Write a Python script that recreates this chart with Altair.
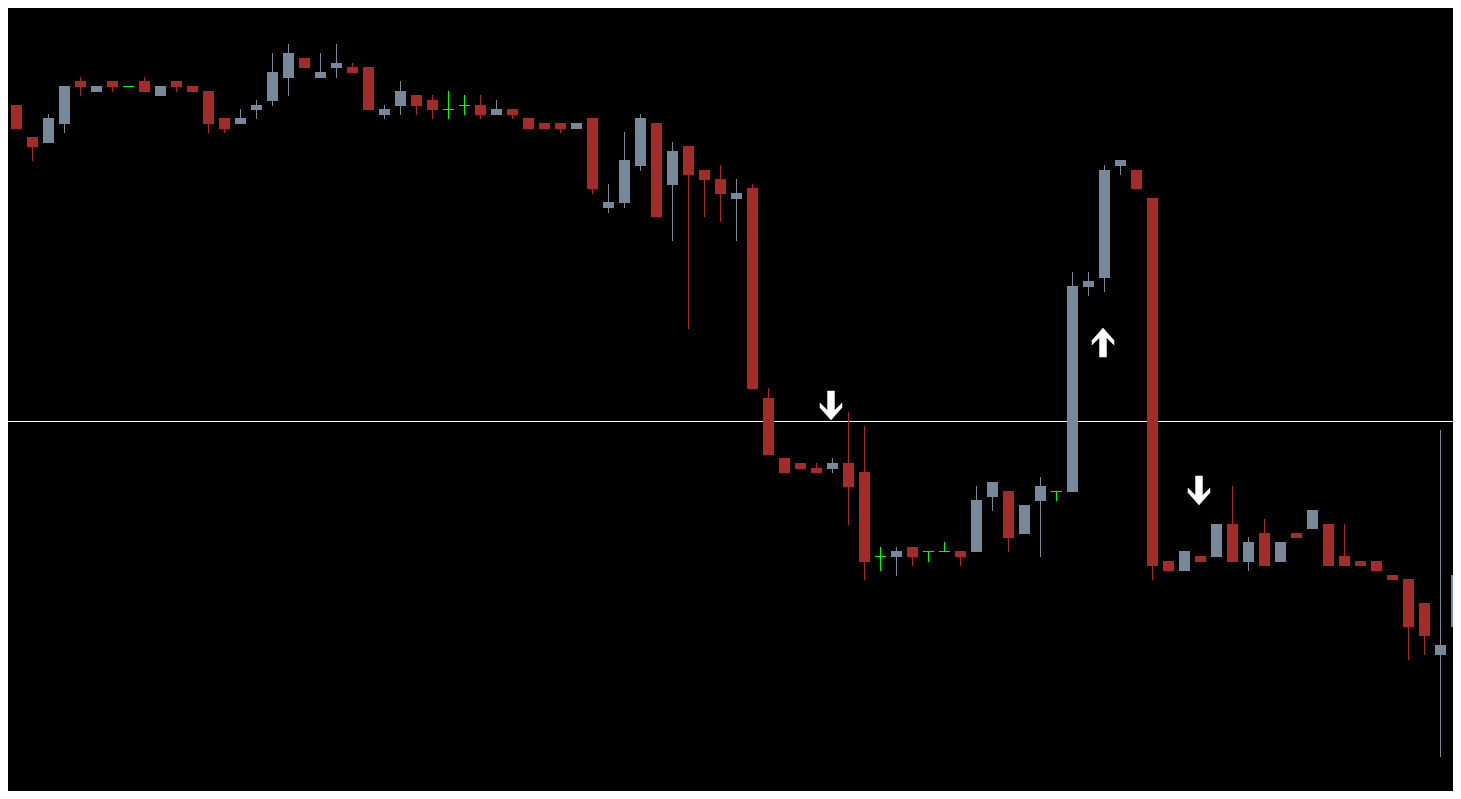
import altair as alt
import pandas as pd

# Candle OHLC values (arbitrary price units, higher = up)
opens = [728, 695, 663, 657, 676, 719, 708, 719, 714, 719, 704, 719, 714, 709, 682, 676,
         690, 699, 722, 742, 722, 732, 733, 733, 685, 694, 705, 700, 691, 695, 695, 685,
         691, 682, 677, 677, 671, 682, 592, 597, 634, 677, 615, 654, 630, 621, 601, 612,
         402, 342, 337, 332, 331, 337, 328, 244, 243, 253, 249, 249, 249, 248, 303, 309,
         266, 299, 309, 308, 513, 522, 634, 630, 602, 239, 229, 244, 243, 276, 238, 267,
         238, 267, 271, 276, 244, 239, 239, 225, 221, 197, 145, 173]
highs = [728, 695, 663, 686, 714, 723, 714, 719, 714, 723, 714, 719, 714, 709, 682, 691,
         700, 747, 756, 742, 747, 756, 737, 733, 695, 719, 705, 705, 709, 705, 705, 700,
         691, 682, 677, 677, 677, 682, 616, 668, 686, 677, 658, 654, 630, 635, 621, 616,
         412, 342, 337, 337, 342, 388, 374, 253, 253, 253, 249, 258, 249, 314, 318, 309,
         295, 323, 309, 528, 528, 635, 640, 630, 602, 239, 249, 244, 276, 314, 263, 281,
         258, 267, 290, 276, 276, 239, 239, 225, 221, 197, 370, 337]
lows = [685, 671, 639, 657, 667, 704, 708, 708, 714, 708, 704, 708, 708, 667, 667, 676,
        681, 694, 704, 732, 722, 722, 727, 690, 681, 685, 685, 681, 681, 685, 681, 685,
        681, 671, 671, 667, 671, 606, 587, 592, 629, 583, 559, 471, 583, 578, 559, 411,
        345, 327, 331, 327, 327, 275, 220, 229, 224, 234, 238, 249, 234, 248, 289, 248,
        266, 243, 299, 308, 504, 508, 625, 611, 220, 229, 229, 238, 243, 238, 229, 234,
        238, 262, 271, 234, 234, 234, 229, 220, 140, 145, 43, 33]
closes = [690, 671, 653, 682, 714, 713, 714, 713, 714, 708, 714, 713, 708, 676, 671, 682,
          695, 728, 747, 732, 728, 737, 727, 690, 691, 709, 694, 690, 691, 695, 685, 691,
          685, 671, 671, 671, 677, 611, 598, 640, 682, 583, 649, 625, 620, 606, 607, 411,
          345, 327, 331, 327, 337, 313, 238, 244, 249, 243, 249, 249, 243, 300, 318, 262,
          295, 314, 309, 514, 519, 630, 640, 611, 234, 229, 249, 238, 276, 238, 258, 234,
          258, 262, 290, 234, 234, 234, 229, 220, 173, 164, 155, 225]

# Horizontal level line
level_price = [379]

# Signal arrows: candle index, price, direction
arrow_idx = [52, 69, 75]
arrow_price = [394.5, 457.5, 309.5]
arrow_dir = ["down", "up", "down"]

kind = []
for o, c in zip(opens, closes):
    kind.append("doji" if o == c else ("bull" if c > o else "bear"))

candles = pd.DataFrame({
    "i": list(range(len(opens))),
    "open": opens, "high": highs, "low": lows, "close": closes, "kind": kind,
})
arrows = pd.DataFrame({"i": arrow_idx, "price": arrow_price, "dir": arrow_dir})
level = pd.DataFrame({"price": level_price})

W, H = 1445, 783
xscale = alt.Scale(domain=[0.46875, 90.78125], nice=False, zero=False)
yscale = alt.Scale(domain=[9, 792], nice=False, zero=False)
color = alt.Color("kind:N", scale=alt.Scale(domain=["bear", "bull", "doji"],
                                            range=["#A52A2A", "#778899", "#00FF00"]),
                  legend=None)

base = alt.Chart(candles).transform_calculate(
    bt="max(datum.open, datum.close)",
    bb="min(datum.open, datum.close)",
    x1="datum.i - 0.34375",
    x2="datum.i + 0.34375",
)

wicks = base.mark_rule(strokeWidth=1, clip=True).encode(
    x=alt.X("i:Q", scale=xscale, axis=None),
    y=alt.Y("high:Q", scale=yscale, axis=None),
    y2="low:Q",
    color=color,
)

bodies = base.transform_filter("datum.kind != 'doji'").mark_rect(clip=True).encode(
    x=alt.X("x1:Q", scale=xscale, axis=None),
    x2="x2:Q",
    y=alt.Y("bt:Q", scale=yscale, axis=None),
    y2="bb:Q",
    color=color,
)

doji = base.transform_filter("datum.kind == 'doji'").mark_rule(
    strokeWidth=1, clip=True, yOffset=0.5).encode(
    x=alt.X("x1:Q", scale=xscale, axis=None),
    x2="x2:Q",
    y=alt.Y("open:Q", scale=yscale, axis=None),
    color=color,
)

hline = alt.Chart(level).mark_rule(color="white", strokeWidth=1, yOffset=0.5).encode(
    y=alt.Y("price:Q", scale=yscale, axis=None),
)

up_path = "M0,-1L0.76,-0.14L0.76,0.17L0.24,-0.34L0.24,1L-0.24,1L-0.24,-0.34L-0.76,0.17L-0.76,-0.14Z"
down_path = "M0,1L0.76,0.14L0.76,-0.17L0.24,0.34L0.24,-1L-0.24,-1L-0.24,0.34L-0.76,-0.17L-0.76,0.14Z"

arrow_marks = alt.Chart(arrows).mark_point(filled=True, color="white", opacity=1, size=841,
                                           stroke="white", strokeWidth=0.5, xOffset=-1.5).encode(
    x=alt.X("i:Q", scale=xscale, axis=None),
    y=alt.Y("price:Q", scale=yscale, axis=None),
    shape=alt.Shape("dir:N", scale=alt.Scale(domain=["up", "down"], range=[up_path, down_path]),
                    legend=None),
)

chart = alt.layer(hline, wicks, bodies, doji, arrow_marks).properties(
    width=W, height=H, background="black", padding=0,
    autosize=alt.AutoSizeParams(type="none"),
).configure_view(stroke=None, fill="black")

chart.save("out.html", embed_options={"renderer": "svg", "actions": False})
